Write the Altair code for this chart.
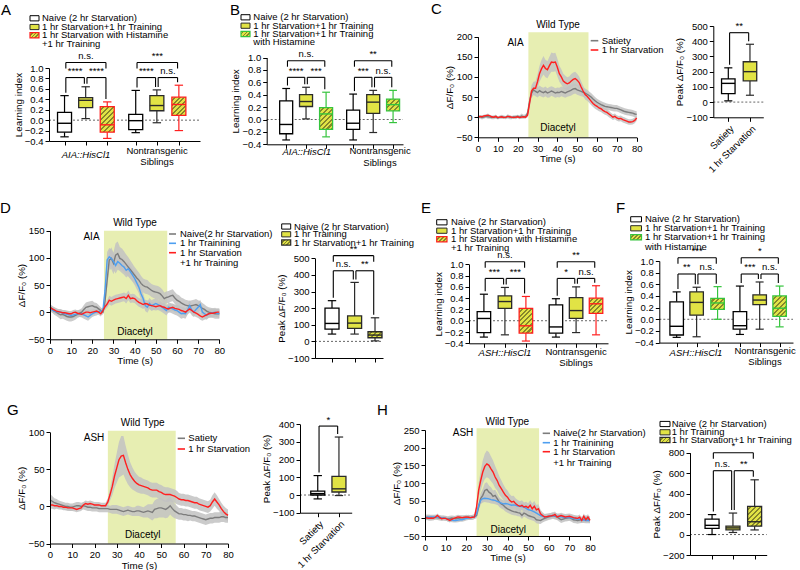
import math
import altair as alt
import pandas as pd

FONT = "Liberation Sans"
VIEW_W, VIEW_H = 800, 570

YEL = "#e1e345"
HATCH = "#86862b"
RED = "#ff1f1f"
GREEN = "#35c43d"
BLUE = "#4e9ff0"
GRAY = "#7c7c7c"
STIM = "#e7eeb2"
BAND = "#c2c2c2"
INK = "#000000"
DARK = "#2a2a2a"

# ---------------------------------------------------------------------------
# Calcium traces (dF/F0, %), one value per second from 0 to 80 s
T_SEC = list(range(81))

C_SAT = [0, 1, -1, 0, 2, 1, 0, -1, 0, 1, -2, 0, 1, 0, -1, 2, 0, -1, 1, 0,
         2, 0, 3, 1, 2, 10, 40, 60, 68, 64, 61, 66, 63, 61, 64, 60, 62, 65, 63, 60,
         62, 61, 64, 62, 60, 63, 65, 67, 70, 71, 68, 66, 64, 62, 60, 57, 54, 50, 45, 41,
         37, 34, 31, 29, 27, 26, 25, 24, 23, 22, 22, 20, 18, 16, 14, 13, 12, 11, 10, 8, 7]
C_SAT_SEM = [4, 4, 5, 4, 4, 5, 4, 4, 5, 5, 4, 4, 5, 4, 4, 5, 5, 4, 4, 5,
             4, 5, 6, 5, 5, 6, 10, 12, 13, 12, 12, 13, 12, 12, 12, 12, 13, 12, 12, 12,
             12, 12, 12, 12, 12, 12, 13, 13, 13, 12, 12, 12, 12, 11, 11, 11, 10, 10, 10, 9,
             9, 9, 9, 9, 9, 8, 8, 8, 8, 8, 8, 8, 8, 8, 8, 8, 8, 8, 8, 8, 8]
C_STV = [0, 2, 1, 3, 4, 5, 3, 1, 0, 2, -1, 0, 1, -1, 0, 2, 1, 0, -1, 0,
         1, -1, 0, 1, 0, 5, 35, 65, 72, 72, 88, 108, 120, 129, 121, 118, 128, 137, 136, 137,
         124, 108, 100, 90, 86, 83, 85, 90, 94, 96, 92, 86, 75, 65, 56, 52, 46, 40, 34, 30,
         27, 23, 21, 17, 14, 12, 8, 4, 0, 2, -2, -4, -3, -6, -8, -10, -12, -12, -11, -8, -2]
C_STV_SEM = [3, 3, 4, 3, 3, 4, 3, 3, 3, 4, 3, 3, 4, 3, 3, 3, 4, 3, 3, 4,
             3, 3, 4, 3, 3, 5, 12, 15, 16, 17, 18, 20, 22, 23, 22, 21, 22, 24, 23, 23,
             22, 20, 19, 18, 17, 16, 16, 17, 17, 17, 16, 15, 14, 13, 12, 11, 10, 10, 9, 9,
             9, 8, 8, 8, 8, 8, 8, 7, 7, 7, 7, 7, 7, 7, 7, 7, 7, 7, 7, 7, 7]

D_NAIVE = [9, 6, 2, 0, -3, -5, -4, -6, -8, -9, -9, -8, -6, -4, -2, 0, 5, 9, 10, 11,
           12, 10, 9, 6, 3, 0, 20, 59, 96, 99, 90, 105, 108, 99, 97, 93, 88, 83, 78, 73,
           68, 63, 59, 53, 49, 47, 46, 43, 40, 38, 37, 36, 34, 30, 25, 27, 28, 30, 31, 26,
           22, 20, 17, 15, 13, 12, 11, 12, 13, 14, 12, 10, 7, 5, 2, 0, -1, -2, -3, -3, -3]
D_NAIVE_SEM = [6, 6, 7, 7, 7, 8, 8, 8, 8, 8, 8, 8, 8, 7, 7, 7, 8, 9, 9, 9,
               9, 8, 8, 7, 6, 5, 8, 14, 18, 20, 20, 22, 22, 21, 20, 19, 18, 18, 17, 16,
               15, 15, 14, 14, 13, 13, 13, 12, 12, 12, 12, 12, 12, 12, 11, 11, 11, 11, 11, 11,
               11, 11, 10, 10, 10, 10, 10, 10, 10, 10, 10, 10, 10, 9, 9, 9, 9, 9, 9, 9, 9]
D_TRAIN = [6, 4, 2, 1, 0, 0, -2, -3, -4, -5, -6, -5, -4, -3, -3, -3, -5, -7, -9, -6,
           -3, -1, 0, 1, 2, 3, 40, 96, 102, 99, 93, 86, 93, 90, 86, 83, 77, 80, 74, 68,
           62, 54, 46, 34, 25, 12, 9, 16, 12, 14, 16, 14, 12, 9, 6, 3, 9, 8, 6, 4,
           3, 0, -3, -2, -3, 4, 12, 4, 0, 5, 9, 14, 0, -3, -6, -3, -2, -1, 0, -2, -3]
D_TRAIN_SEM = [5, 5, 5, 5, 6, 6, 6, 6, 6, 6, 6, 6, 6, 6, 6, 7, 7, 7, 7, 6,
               6, 6, 6, 5, 5, 5, 10, 15, 16, 16, 15, 15, 15, 14, 14, 14, 13, 13, 13, 12,
               12, 12, 11, 11, 10, 10, 10, 10, 10, 10, 10, 10, 10, 9, 9, 9, 9, 9, 9, 9,
               9, 9, 9, 9, 9, 9, 10, 10, 9, 9, 9, 9, 9, 9, 8, 8, 8, 8, 8, 8, 8]
D_STTR = [9, 6, 4, 2, 1, 0, -1, -1, -2, -3, -3, -1, 0, -2, -3, -4, -2, 0, 0, -1,
          0, 1, 2, 0, -3, 3, 10, 15, 22, 20, 22, 24, 25, 26, 27, 28, 25, 31, 25, 26,
          25, 21, 18, 16, 14, 16, 15, 13, 12, 11, 10, 11, 12, 10, 9, 7, 6, 8, 9, 7,
          6, 5, 3, 2, 0, 3, 6, 3, 0, -2, -4, -7, -9, -7, -5, -3, -2, -2, -1, 0, 0]
D_STTR_SEM = [5, 5, 5, 5, 5, 5, 5, 5, 5, 5, 5, 5, 5, 5, 5, 5, 5, 5, 5, 5,
              5, 5, 5, 5, 5, 5, 6, 7, 8, 8, 8, 8, 8, 8, 8, 8, 9, 9, 8, 8,
              8, 8, 8, 8, 8, 7, 7, 7, 7, 7, 7, 7, 7, 7, 7, 7, 7, 7, 7, 7,
              7, 7, 7, 7, 7, 7, 7, 7, 7, 7, 7, 7, 7, 7, 7, 7, 7, 7, 7, 7, 7]

G_SAT = [9, 7, 5, 4, 3, 2, 1, 0, 0, -1, -1, 0, 1, 1, 0, 1, 0, -1, -1, -2,
         -2, -2, -3, -3, -3, -3, -3, -4, -4, -4, -4, -5, -6, -7, -6, -5, -6, -7, -7, -6,
         -6, -7, -8, -7, -6, -7, -8, -4, -3, -2, -2, -3, -4, -2, 1, -3, -6, -8, -10, -10,
         -11, -11, -12, -12, -13, -13, -14, -15, -16, -17, -18, -17, -16, -16, -15, -15, -15, -14, -14, -15, -15]
G_SAT_SEM = [8, 7, 6, 6, 5, 5, 5, 5, 5, 5, 5, 5, 5, 5, 5, 5, 5, 5, 5, 5,
             5, 5, 5, 5, 5, 5, 5, 5, 6, 6, 6, 6, 6, 6, 6, 6, 6, 6, 6, 7,
             7, 7, 7, 8, 9, 10, 11, 12, 13, 13, 13, 12, 12, 13, 12, 11, 10, 9, 8, 8,
             8, 8, 8, 7, 7, 7, 7, 7, 7, 7, 7, 7, 7, 7, 7, 7, 7, 7, 7, 7, 7]
G_STV = [2, 2, 1, 1, 0, 0, -1, -1, -2, -2, -2, -3, -4, -3, -2, 2, 4, 3, 4, 3,
         2, 2, 2, 1, 1, 1, 6, 16, 27, 41, 52, 63, 68, 69, 59, 50, 43, 38, 34, 31,
         29, 28, 27, 26, 25, 23, 22, 22, 22, 20, 19, 17, 16, 16, 16, 15, 14, 12, 10, 9,
         9, 8, 8, 7, 6, 5, 5, 3, 2, 1, 0, -1, 1, 6, 10, 6, 2, -3, -7, -10, -12]
G_STV_SEM = [5, 5, 5, 4, 4, 4, 4, 4, 4, 4, 4, 4, 4, 4, 4, 4, 4, 4, 4, 4,
             4, 4, 4, 4, 4, 4, 5, 8, 12, 16, 20, 24, 27, 26, 23, 20, 17, 15, 13, 12,
             11, 11, 10, 10, 10, 10, 10, 10, 10, 10, 10, 10, 10, 10, 9, 9, 9, 9, 8, 8,
             8, 8, 8, 8, 8, 8, 8, 8, 8, 8, 8, 8, 8, 9, 9, 9, 8, 8, 8, 8, 8]

H_NAIVE = [2, 3, 2, 1, 2, 3, 2, 1, 0, 1, 0, -1, 0, 1, 0, -1, 0, 1, 2, 1,
           2, 3, 2, 3, 5, 8, 32, 56, 65, 79, 82, 74, 70, 62, 65, 56, 46, 41, 37, 31,
           27, 24, 21, 19, 18, 16, 15, 8, 15, 12, 8, 6, 4, 2, -4, -5, -6, -3, 0, 2,
           4, 6, 8, 6, 4, 0, -4, -2, 0, 1, 2, -1, -4, -5, -6, -5, -4, -3, 0, -2, -4]
H_NAIVE_SEM = [8, 8, 8, 8, 7, 7, 7, 7, 7, 7, 7, 7, 7, 7, 7, 7, 7, 7, 7, 7,
               7, 7, 7, 7, 7, 8, 12, 16, 18, 20, 20, 19, 18, 17, 16, 15, 14, 13, 12, 12,
               11, 11, 11, 10, 10, 10, 10, 10, 10, 10, 10, 10, 10, 10, 10, 10, 10, 9, 9, 9,
               9, 9, 9, 9, 9, 9, 9, 9, 9, 9, 9, 9, 9, 9, 9, 9, 9, 9, 9, 9, 9]
H_TRAIN = [2, 3, 4, 4, 4, 4, 3, 3, 2, 1, 0, -2, -4, -5, -6, -6, -5, -4, -4, -2,
           0, 1, 2, 3, 4, 13, 36, 51, 56, 57, 56, 55, 53, 52, 51, 48, 46, 43, 41, 42,
           41, 39, 37, 38, 37, 35, 34, 33, 32, 28, 25, 23, 21, 18, 15, 11, 8, 6, 4, 5,
           6, 7, 8, 7, 6, 5, 4, 3, 2, 2, 2, 1, 0, -1, -2, -3, -4, -5, -6, -6, -6]
H_TRAIN_SEM = [6, 6, 6, 6, 6, 6, 6, 6, 6, 6, 6, 6, 6, 6, 6, 6, 6, 6, 6, 6,
               6, 6, 6, 6, 6, 7, 9, 10, 11, 11, 11, 11, 11, 11, 11, 10, 10, 10, 10, 10,
               10, 10, 10, 10, 10, 10, 10, 10, 10, 10, 10, 10, 9, 9, 9, 9, 9, 8, 8, 8,
               8, 8, 8, 8, 8, 8, 8, 8, 8, 8, 8, 8, 8, 8, 8, 8, 8, 8, 8, 8, 8]
H_STTR = [2, 1, 0, 1, 0, 3, 8, 3, -1, 0, 0, -3, -6, -3, 0, 2, 4, 3, 2, 3,
          4, 3, 2, 3, 4, 32, 79, 107, 131, 147, 154, 150, 140, 131, 117, 107, 93, 84, 74, 65,
          60, 51, 46, 48, 41, 37, 34, 37, 32, 34, 30, 37, 27, 34, 24, 27, 13, 8, 4, 5,
          6, 7, 8, 11, 4, 6, 8, 6, 4, 5, 6, 4, 2, 1, 0, 3, -6, 6, -4, 4, -6]
H_STTR_SEM = [6, 6, 6, 6, 6, 6, 6, 6, 6, 6, 6, 6, 6, 6, 6, 6, 6, 6, 6, 6,
              6, 6, 6, 6, 6, 10, 20, 28, 33, 36, 38, 37, 35, 33, 31, 28, 26, 24, 22, 20,
              19, 18, 17, 16, 15, 15, 14, 14, 13, 13, 13, 14, 15, 15, 14, 13, 11, 9, 8, 8,
              8, 8, 8, 8, 8, 8, 8, 8, 8, 8, 8, 8, 8, 8, 8, 8, 8, 8, 8, 8, 8]

# ---------------------------------------------------------------------------
# Box-plot summaries per group: (min, Q1, median, Q3, max)
A_STATS = [(-0.32, -0.23, -0.06, 0.15, 0.47), (0.03, 0.24, 0.38, 0.43, 0.64),
           (-0.35, -0.23, -0.09, 0.26, 0.35), (-0.24, -0.18, -0.01, 0.11, 0.57),
           (-0.05, 0.18, 0.28, 0.47, 0.58), (-0.20, 0.09, 0.30, 0.44, 0.67)]
B_STATS = [(-0.33, -0.23, -0.08, 0.30, 0.50), (0.01, 0.21, 0.29, 0.40, 0.52),
           (-0.28, -0.16, 0.09, 0.19, 0.44), (-0.33, -0.16, -0.06, 0.15, 0.41),
           (-0.21, 0.10, 0.28, 0.40, 0.47), (-0.05, 0.14, 0.24, 0.33, 0.47)]
E_STATS = [(-0.29, -0.21, 0.04, 0.16, 0.47), (-0.25, 0.22, 0.34, 0.44, 0.59),
           (-0.36, -0.22, -0.09, 0.22, 0.43), (-0.29, -0.22, -0.11, 0.28, 0.39),
           (-0.21, 0.04, 0.18, 0.41, 0.60), (-0.25, 0.13, 0.30, 0.40, 0.62)]
F_STATS = [(-0.31, -0.27, -0.12, 0.30, 0.47), (-0.30, 0.07, 0.29, 0.47, 0.55),
           (0.00, 0.17, 0.28, 0.36, 0.56), (-0.26, -0.17, -0.11, 0.13, 0.57),
           (-0.17, 0.25, 0.33, 0.42, 0.64), (-0.13, 0.05, 0.19, 0.40, 0.57)]
C_PEAK = [(8, 55, 123, 152, 225), (45, 140, 200, 265, 380)]
D_PEAK = [(44, 74, 108, 200, 245), (44, 78, 110, 153, 355), (3, 22, 38, 58, 142)]
G_PEAK = [(-22, 0, 8, 22, 110), (-3, 17, 35, 105, 328)]
H_PEAK = [(0, 60, 90, 150, 195), (20, 45, 65, 82, 210), (45, 82, 125, 275, 535)]

# significance brackets: (group i, group j, label, tier 0=lower / 1=upper)
A_SIG = [(0, 1, "****", 0), (1, 2, "****", 0), (0, 2, "n.s.", 1),
         (3, 4, "****", 0), (4, 5, "n.s.", 0), (3, 5, "***", 1)]
B_SIG = [(0, 1, "****", 0), (1, 2, "***", 0), (0, 2, "n.s.", 1),
         (3, 4, "***", 0), (4, 5, "n.s.", 0), (3, 5, "**", 1)]
E_SIG = [(0, 1, "***", 0), (1, 2, "***", 0), (0, 2, "n.s.", 1),
         (3, 4, "*", 0), (4, 5, "n.s.", 0), (3, 5, "**", 1)]
F_SIG = [(0, 1, "**", 0), (1, 2, "n.s.", 0), (0, 2, "***", 1),
         (3, 4, "***", 0), (4, 5, "n.s.", 0), (3, 5, "*", 1)]
C_SIG = [(0, 1, "**", 0)]
G_SIG = [(0, 1, "*", 0)]
D_SIG = [(0, 1, "n.s.", 0), (1, 2, "**", 0), (0, 2, "**", 1)]
H_SIG = [(0, 1, "n.s.", 0), (1, 2, "**", 0), (0, 2, "*", 1)]

LI_TICKS = [-0.4, -0.2, 0.0, 0.2, 0.4, 0.6, 0.8, 1.0]

# ---------------------------------------------------------------------------
# Panel geometry in page pixels
GEO = {
    "A": dict(xd=(0, 7), xr=(49, 200), yd=(-0.4, 1.0), yr=(141, 68), bw=14,
              pos=[0.72, 1.7, 2.7, 4.02, 5.0, 6.02], lv=(0.817, 1.105)),
    "B": dict(xd=(0, 7), xr=(266.7, 403), yd=(-0.4, 1.0), yr=(144.3, 57.5), bw=13,
              pos=[1.0, 2.02, 3.05, 4.44, 5.47, 6.49], lv=(0.68, 0.948)),
    "E": dict(xd=(0, 6.62), xr=(469, 608), yd=(-0.4, 1.0), yr=(343.3, 264.3), bw=13.5,
              pos=[0.71, 1.71, 2.71, 4.14, 5.1, 6.05], lv=(0.75, 1.046)),
    "F": dict(xd=(0, 6.7), xr=(659.3, 793), yd=(-0.4, 1.0), yr=(342.6, 261), bw=13.5,
              pos=[0.87, 1.87, 2.92, 4.04, 5.03, 6.03], lv=(0.777, 1.057)),
    "Cb": dict(xd=(0, 3), xr=(713.3, 763.3), yd=(-100, 500), yr=(117.3, 26), bw=13.5,
               pos=[0.9, 2.2], lv=(456, 456)),
    "Db": dict(xd=(0, 4), xr=(315, 383), yd=(-100, 500), yr=(358, 258.3), bw=14,
               pos=[1.0, 2.33, 3.53], lv=(425, 516)),
    "Gb": dict(xd=(0, 3), xr=(300, 351.7), yd=(-100, 400), yr=(512.7, 424.3), bw=14,
               pos=[1.03, 2.26], lv=(390, 390)),
    "Hb": dict(xd=(0, 4), xr=(690, 766.7), yd=(-200, 800), yr=(555, 452.7), bw=14,
               pos=[1.15, 2.24, 3.37], lv=(624, 800)),
    "C": dict(xd=(0, 80), xr=(478, 636.7), yd=(-50, 200), yr=(137.3, 36.7), stim=(25.4, 55.7, 211)),
    "D": dict(xd=(0, 80), xr=(50, 219.3), yd=(-50, 150), yr=(339.3, 230.7), stim=(25.5, 55.4, 150)),
    "G": dict(xd=(0, 80), xr=(50, 228), yd=(-50, 100), yr=(543.5, 432.3), stim=(26, 56.5, 102)),
    "H": dict(xd=(0, 80), xr=(425, 590), yd=(-50, 250), yr=(536, 430), stim=(25, 55.3, 255)),
}

EDGE = {"w": INK, "y": DARK, "hr": RED, "hg": GREEN, "hd": DARK}


def lin(d, r):
    return alt.Scale(domain=list(d), range=list(r), nice=False, zero=False)


def hatch_fill(w, h, period=3.4):
    """Diagonal '/' stripes as a hard-stop linear gradient over a w x h box."""
    w, h = max(w, 1.0), max(h, 1.0)
    n = max(2, int(round((w + h) / math.sqrt(2) / period)))
    k = w * (w + h) / (w * w + h * h)
    stops = []
    for i in range(n):
        a, b, c = i / n, (i + 0.58) / n, (i + 1) / n
        stops += [{"offset": a, "color": YEL}, {"offset": b, "color": YEL},
                  {"offset": b, "color": HATCH}, {"offset": c, "color": HATCH}]
    return {"gradient": "linear", "x1": 0, "y1": 0, "x2": k, "y2": k * h / w, "stops": stops}


def axes_for(g, xvals, yvals, yfmt, ytitle, xtitle=None, names=None):
    """A unit chart carrying only the axes of one panel."""
    xs, ys = lin(g["xd"], g["xr"]), lin(g["yd"], g["yr"])
    common = dict(orient="bottom", offset=g["yr"][0] - VIEW_H, values=xvals, zindex=1)
    if names:
        mid = (xvals[0] + xvals[1]) / 2
        xaxis = alt.Axis(title=None, labelExpr=f"datum.value < {mid} ? '{names[0]}' : '{names[1]}'",
                         labelAngle=315, labelAlign="right", labelBaseline="top", labelPadding=2,
                         **common)
    elif xtitle:
        xaxis = alt.Axis(title=xtitle, titlePadding=1, **common)
    else:
        xaxis = alt.Axis(labels=False, title=None, **common)
    yaxis = alt.Axis(orient="left", offset=-g["xr"][0], values=yvals, format=yfmt, title=ytitle,
                     titlePadding=1, zindex=1)
    df = pd.DataFrame({"a": [g["xd"][0]], "b": [g["yd"][0]]})
    return alt.Chart(df).mark_point(opacity=0, size=1).encode(
        x=alt.X("a:Q", scale=xs, axis=xaxis), y=alt.Y("b:Q", scale=ys, axis=yaxis))


def box_panel(stats, kinds, sig, g, ytitle, yticks, yfmt, names=None):
    xs, ys = lin(g["xd"], g["xr"]), lin(g["yd"], g["yr"])
    ppx = (g["xr"][1] - g["xr"][0]) / (g["xd"][1] - g["xd"][0])
    ppy = (g["yr"][0] - g["yr"][1]) / (g["yd"][1] - g["yd"][0])
    pos = g["pos"]
    half = g["bw"] / 2 / ppx
    cap = g["bw"] * 0.3 / ppx
    rows = []
    for k, ((lo, q1, md, q3, hi), kind) in enumerate(zip(stats, kinds)):
        p = pos[k]
        rows.append(dict(k=k, p=p, xl=p - half, xr=p + half, cl=p - cap, cr=p + cap,
                         lo=lo, q1=q1, md=md, q3=q3, hi=hi, edge=EDGE[kind]))
    df = pd.DataFrame(rows)
    base = alt.Chart(df)

    def X(f):
        return alt.X(f"{f}:Q", scale=xs, axis=None)

    def Y(f):
        return alt.Y(f"{f}:Q", scale=ys, axis=None)

    ecol = alt.Color("edge:N", scale=None)
    out = []
    out.append(alt.Chart(pd.DataFrame({"a": [g["xd"][0]], "b": [g["xd"][1]], "z": [0.0]})).mark_rule(
        strokeDash=[2, 2], color="#555555", strokeWidth=0.9
    ).encode(x=X("a"), x2=alt.X2("b"), y=Y("z")))
    out.append(base.mark_rule(strokeWidth=1.2).encode(x=X("p"), y=Y("lo"), y2=alt.Y2("q1"), color=ecol))
    out.append(base.mark_rule(strokeWidth=1.2).encode(x=X("p"), y=Y("q3"), y2=alt.Y2("hi"), color=ecol))
    out.append(base.mark_rule(strokeWidth=1.2).encode(x=X("cl"), x2=alt.X2("cr"), y=Y("lo"), color=ecol))
    out.append(base.mark_rule(strokeWidth=1.2).encode(x=X("cl"), x2=alt.X2("cr"), y=Y("hi"), color=ecol))
    for k, kind in enumerate(kinds):
        q1, q3 = stats[k][1], stats[k][3]
        if kind == "w":
            fill = "white"
        elif kind == "y":
            fill = YEL
        else:
            fill = hatch_fill(g["bw"], (q3 - q1) * ppy)
        out.append(
            base.transform_filter(alt.datum.k == k)
            .mark_rect(fill=fill, stroke=EDGE[kind], strokeWidth=1.3)
            .encode(x=X("xl"), x2=alt.X2("xr"), y=Y("q1"), y2=alt.Y2("q3"))
        )
    out.append(base.mark_rule(strokeWidth=1.4).encode(x=X("xl"), x2=alt.X2("xr"), y=Y("md"), color=ecol))

    lo_lv, hi_lv = g["lv"]
    gap = 1.3 / ppx
    segs, labs = [], []
    for i, j, txt, tier in sig:
        y = hi_lv if tier else lo_lv
        a, b = pos[i] + gap, pos[j] - gap
        if tier:
            la = lb = y - 6 / ppy
        else:
            la = min(stats[i][4] + 3 / ppy, y - 2 / ppy)
            lb = min(stats[j][4] + 3 / ppy, y - 2 / ppy)
        segs += [dict(x=a, x2=b, y=y, y2=y), dict(x=a, x2=a, y=y, y2=la), dict(x=b, x2=b, y=y, y2=lb)]
        labs.append(dict(x=(pos[i] + pos[j]) / 2, y=y, t=txt))
    out.append(alt.Chart(pd.DataFrame(segs)).mark_rule(color=INK, strokeWidth=1.1).encode(
        x=X("x"), x2=alt.X2("x2"), y=Y("y"), y2=alt.Y2("y2")))
    out.append(alt.Chart(pd.DataFrame(labs)).mark_text(
        font=FONT, fontSize=9.5, baseline="bottom", dy=-1.5, color=INK
    ).encode(x=X("x"), y=Y("y"), text="t:N"))
    out.append(axes_for(g, pos, yticks, yfmt, ytitle, names=names))
    return out


def line_panel(series, g, yticks):
    xs, ys = lin(g["xd"], g["xr"]), lin(g["yd"], g["yr"])
    t0, t1, top = g["stim"]
    out = [alt.Chart(pd.DataFrame({"a": [t0], "b": [t1], "lo": [g["yd"][0]], "hi": [top]})).mark_rect(
        fill=STIM
    ).encode(x=alt.X("a:Q", scale=xs, axis=None), x2=alt.X2("b"),
             y=alt.Y("lo:Q", scale=ys, axis=None), y2=alt.Y2("hi"))]
    lines = []
    for vals, sem, color in series:
        df = pd.DataFrame({"t": T_SEC, "v": vals,
                           "lo": [v - s for v, s in zip(vals, sem)],
                           "hi": [v + s for v, s in zip(vals, sem)]})
        out.append(alt.Chart(df).mark_area(color=BAND, opacity=0.85).encode(
            x=alt.X("t:Q", scale=xs, axis=None), y=alt.Y("lo:Q", scale=ys, axis=None), y2=alt.Y2("hi")))
        lines.append(alt.Chart(df).mark_line(color=color, strokeWidth=1.4).encode(
            x=alt.X("t:Q", scale=xs, axis=None), y=alt.Y("v:Q", scale=ys, axis=None)))
    out += lines
    out.append(axes_for(g, list(range(0, 81, 10)), yticks, "d", "ΔF/F₀ (%)", xtitle="Time (s)"))
    return out


# ---------------------------------------------------------------------------
# Annotation texts in page pixels: (x, y, text, size)
LETTERS = [(1, 15, "A", 15), (230, 15, "B", 15), (431, 14, "C", 15), (0, 213, "D", 15),
           (421, 213, "E", 15), (616, 213, "F", 15), (7, 415, "G", 15), (377, 415, "H", 15)]

L3H = ["Naive (2 hr Starvation)", "1 hr Starvation+1 hr Training", "1 hr Starvation with Histamine",
       "+1 hr Training"]
L3G = ["Naive (2 hr Starvation)", "1 hr Starvation+1 hr Training", "1 hr Starvation+1 hr Training",
       "with Histamine"]
L3P = ["Naive (2 hr Starvation)", "1 hr Training", "1 hr Starvation+1 hr Training"]
LTR = ["Naive(2 hr Starvation)", "1 hr Trainining", "1 hr Starvation", "+1 hr Training"]
LSA = ["Satiety", "1 hr Starvation"]

LEFT_TEXT = []
for x, ys_, names in [(42, [18.3, 27, 35.3, 44.3], L3H), (253.3, [17.3, 25.7, 34, 42.3], L3G),
                      (451, [222.3, 230.7, 239.3, 248.3], L3H), (645, [219.3, 228.3, 237.3, 246.7], L3G),
                      (294, [226.5, 234.3, 242.5], L3P), (671.7, [424, 432.3, 440], L3P),
                      (180, [234, 243.3, 252.7, 263.3], LTR), (553.3, [433.3, 442.7, 451.7, 462.7], LTR),
                      (601.7, [40.7, 50], LSA), (188.3, [438.3, 449], LSA)]:
    for yy, s in zip(ys_, names):
        LEFT_TEXT.append((x, yy, s, 9.5))

CENTER_TEXT = [
    (558, 25, "Wild Type", 10), (515.5, 43, "AIA", 10), (558, 128, "Diacetyl", 10),
    (135, 223.3, "Wild Type", 10), (91.5, 237.3, "AIA", 10), (135, 332, "Diacetyl", 10),
    (142.7, 423.3, "Wild Type", 10), (94, 438.3, "ASH", 10), (142.7, 535, "Diacetyl", 10),
    (507.3, 421.7, "Wild Type", 10), (463, 433.3, "ASH", 10), (508.3, 530, "Diacetyl", 10),
    (157, 150.5, "Nontransgenic", 9.5), (157, 162, "Siblings", 9.5),
    (380, 151, "Nontransgenic", 9.5), (380, 163.3, "Siblings", 9.5),
    (576, 351.7, "Nontransgenic", 9.5), (576, 362.7, "Siblings", 9.5),
    (765, 350.7, "Nontransgenic", 9.5), (765, 361.7, "Siblings", 9.5),
]
ITALIC_TEXT = [(86, 155, "AIA::HisCl1", 9.5), (306.7, 151.7, "AIA::HisCl1", 9.5),
               (505, 352.7, "ASH::HisCl1", 9.5), (696, 353.3, "ASH::HisCl1", 9.5)]

# legend swatches: (x0, x1, y centre, kind)
SWATCHES = []
for x0, x1, ys_, kinds in [(30, 39, [18.3, 27, 35.3], ["w", "y", "hr"]),
                           (241, 250, [17.3, 25.7, 34], ["w", "y", "hg"]),
                           (436.7, 447, [222.3, 230.7, 239.3], ["w", "y", "hr"]),
                           (630.7, 641.5, [219.3, 228.3, 237.3], ["w", "y", "hg"]),
                           (281.7, 290.7, [226.5, 234.3, 242.5], ["w", "y", "hd"]),
                           (660, 670, [424, 432.3, 440], ["w", "y", "hd"])]:
    for yy, kd in zip(ys_, kinds):
        SWATCHES.append((x0, x1, yy, kd))

# line-legend dashes: (x0, x1, y, colour)
DASHES = [(590.7, 598.3, 40.7, GRAY), (590.7, 598.3, 50, RED),
          (169, 176, 234, GRAY), (169, 176, 243.3, BLUE), (169, 176, 252.7, RED),
          (177.7, 185, 438.3, GRAY), (177.7, 185, 449, RED),
          (542.7, 550, 433.3, GRAY), (542.7, 550, 442.7, BLUE), (542.7, 550, 451.7, RED)]


def text_layer(items, align, baseline="middle", style="normal"):
    df = pd.DataFrame(items, columns=["x", "y", "t", "s"])
    return alt.Chart(df).mark_text(align=align, baseline=baseline, font=FONT, fontStyle=style,
                                   color=INK).encode(
        x=alt.X("x:Q", scale=None, axis=None), y=alt.Y("y:Q", scale=None, axis=None),
        text="t:N", size=alt.Size("s:Q", scale=None, legend=None))


def swatch_layers():
    plain = [dict(x0=a, x1=b, y0=y - 2.6, y1=y + 2.6, f=("white" if k == "w" else YEL), e=EDGE[k])
             for a, b, y, k in SWATCHES if k in ("w", "y")]
    out = [alt.Chart(pd.DataFrame(plain)).mark_rect(strokeWidth=1).encode(
        x=alt.X("x0:Q", scale=None, axis=None), x2=alt.X2("x1"),
        y=alt.Y("y0:Q", scale=None, axis=None), y2=alt.Y2("y1"),
        fill=alt.Fill("f:N", scale=None), stroke=alt.Stroke("e:N", scale=None))]
    for a, b, y, k in SWATCHES:
        if k in ("w", "y"):
            continue
        df = pd.DataFrame([dict(x0=a, x1=b, y0=y - 2.6, y1=y + 2.6)])
        out.append(alt.Chart(df).mark_rect(fill=hatch_fill(b - a, 5.2, period=2.6), stroke=EDGE[k],
                                           strokeWidth=1.2).encode(
            x=alt.X("x0:Q", scale=None, axis=None), x2=alt.X2("x1"),
            y=alt.Y("y0:Q", scale=None, axis=None), y2=alt.Y2("y1")))
    return out


dash_df = pd.DataFrame([dict(x0=a, x1=b, y=y, c=c) for a, b, y, c in DASHES])
dash_layer = alt.Chart(dash_df).mark_rule(strokeWidth=1.6).encode(
    x=alt.X("x0:Q", scale=None, axis=None), x2=alt.X2("x1"),
    y=alt.Y("y:Q", scale=None, axis=None), color=alt.Color("c:N", scale=None))

LI = "Learning index"
PEAK = "Peak ΔF/F₀ (%)"
KH = ["w", "y", "hr", "w", "y", "hr"]
KG = ["w", "y", "hg", "w", "y", "hg"]

units = []
units += box_panel(A_STATS, KH, A_SIG, GEO["A"], LI, LI_TICKS, ".1f")
units += box_panel(B_STATS, KG, B_SIG, GEO["B"], LI, LI_TICKS, ".1f")
units += box_panel(E_STATS, KH, E_SIG, GEO["E"], LI, LI_TICKS, ".1f")
units += box_panel(F_STATS, KG, F_SIG, GEO["F"], LI, LI_TICKS, ".1f")
units += box_panel(C_PEAK, ["w", "y"], C_SIG, GEO["Cb"], PEAK, [-100, 0, 100, 200, 300, 400, 500], "d",
                   names=LSA)
units += box_panel(D_PEAK, ["w", "y", "hd"], D_SIG, GEO["Db"], PEAK, [-100, 0, 100, 200, 300, 400, 500], "d")
units += box_panel(G_PEAK, ["w", "y"], G_SIG, GEO["Gb"], PEAK, [-100, 0, 100, 200, 300, 400], "d",
                   names=LSA)
units += box_panel(H_PEAK, ["w", "y", "hd"], H_SIG, GEO["Hb"], PEAK, [-200, 0, 200, 400, 600, 800], "d")
units += line_panel([(C_SAT, C_SAT_SEM, GRAY), (C_STV, C_STV_SEM, RED)], GEO["C"],
                    [-50, 0, 50, 100, 150, 200])
units += line_panel([(D_NAIVE, D_NAIVE_SEM, GRAY), (D_TRAIN, D_TRAIN_SEM, BLUE), (D_STTR, D_STTR_SEM, RED)],
                    GEO["D"], [-50, 0, 50, 100, 150])
units += line_panel([(G_SAT, G_SAT_SEM, GRAY), (G_STV, G_STV_SEM, RED)], GEO["G"], [-50, 0, 50, 100])
units += line_panel([(H_NAIVE, H_NAIVE_SEM, GRAY), (H_TRAIN, H_TRAIN_SEM, BLUE), (H_STTR, H_STTR_SEM, RED)],
                    GEO["H"], [-50, 0, 50, 100, 150, 200, 250])

units += [
    text_layer(LETTERS, "left", baseline="alphabetic"),
    text_layer(LEFT_TEXT, "left"),
    text_layer(CENTER_TEXT, "center"),
    text_layer(ITALIC_TEXT, "center", style="italic"),
    dash_layer,
    *swatch_layers(),
]

chart = (
    alt.layer(*units)
    .resolve_scale(x="independent", y="independent")
    .resolve_axis(x="independent", y="independent")
    .properties(width=VIEW_W, height=VIEW_H, padding=0, autosize=alt.AutoSizeParams(type="none"),
                background="white")
    .configure_view(stroke=None)
    .configure_axis(
        domainColor=INK, tickColor=INK, labelColor=INK, titleColor=INK,
        labelFont=FONT, titleFont=FONT, labelFontSize=9.5, titleFontSize=9.8,
        titleFontWeight="normal", tickSize=4, labelPadding=2, titlePadding=3,
        grid=False, labelFlush=False, labelOverlap=False, domainWidth=1, tickWidth=1,
    )
)

chart.save("out.html", embed_options={"renderer": "svg", "actions": False})
